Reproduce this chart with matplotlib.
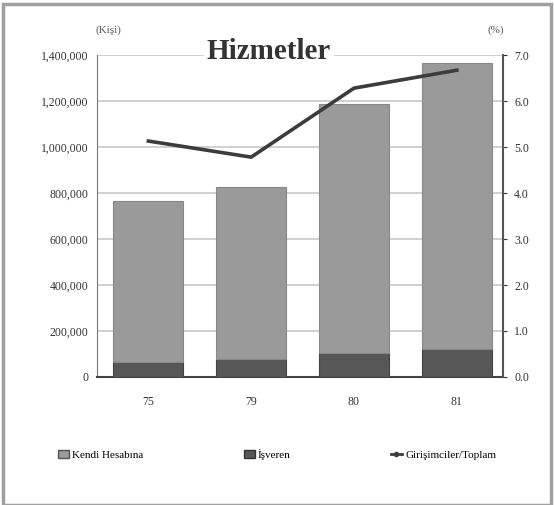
import numpy as np
import matplotlib.pyplot as plt
from matplotlib.patches import Rectangle, Patch
from matplotlib.lines import Line2D

years = ["75", "79", "80", "81"]
isveren = [65000, 78000, 104000, 122000]          # dark bottom part
kendi_hesabina = [700000, 748000, 1083000, 1243000]  # light top part
girisimci_orani = [5.13, 4.78, 6.28, 6.67]          # % (right axis)

plt.rcParams['font.family'] = ['Liberation Serif', 'DejaVu Serif']

fig = plt.figure(figsize=(5.54, 5.05), dpi=100)
ax = fig.add_axes([0.175, 0.2535, 0.733, 0.6375])
x = np.arange(len(years))

ax.bar(x, isveren, width=0.68, color='#575757', edgecolor='#444444', linewidth=0.8, zorder=3)
ax.bar(x, kendi_hesabina, width=0.68, bottom=isveren, color='#9a9a9a',
       edgecolor='#888888', linewidth=0.8, zorder=3)
ax.set_xlim(-0.5, 3.45)
ax.set_ylim(0, 1400000)
ax.set_yticks(np.arange(0, 1400001, 200000))
ax.set_yticklabels(['0'] + [f"{v:,}" for v in range(200000, 1400001, 200000)])
ax.set_xticks(x)
ax.set_xticklabels(years)
ax.grid(axis='y', color='#c8c8c8', linewidth=1.2, zorder=0)
ax.tick_params(labelsize=8.5, colors='#333333', length=0, pad=6)
ax.tick_params(axis='x', pad=14)
for s in ['top', 'right']:
    ax.spines[s].set_visible(False)
ax.spines['left'].set_color('#777777')
ax.spines['bottom'].set_color('#444444')
ax.spines['bottom'].set_linewidth(1.5)

ax2 = ax.twinx()
ax2.plot(x, girisimci_orani, color='#3c3c3c', linewidth=2.6, zorder=5)
ax2.set_ylim(0, 7)
ax2.set_yticks(np.arange(0, 7.01, 1.0))
ax2.set_yticklabels([f"{v:.1f}" for v in np.arange(0, 7.01, 1.0)])
ax2.tick_params(labelsize=8.5, colors='#333333', length=3, pad=5)
for s in ['top', 'left', 'bottom']:
    ax2.spines[s].set_visible(False)
ax2.spines['right'].set_color('#555555')
ax2.spines['right'].set_linewidth(1.5)

fig.text(0.485, 0.898, "Hizmetler", ha='center', va='center', fontsize=21,
         fontweight='bold', color='#333333',
         bbox=dict(facecolor='white', edgecolor='none', pad=2))
fig.text(0.195, 0.94, "(Kişi)", ha='center', va='center', fontsize=8, color='#555555')
fig.text(0.895, 0.94, "(%)", ha='center', va='center', fontsize=8, color='#555555')

handles = [Patch(facecolor='#9a9a9a', edgecolor='#555555'),
           Patch(facecolor='#575757', edgecolor='#333333'),
           Line2D([], [], color='#3c3c3c', linewidth=2, marker='o', markersize=3)]
labels = ["Kendi Hesabına", "İşveren", "Girişimciler/Toplam"]
fig.legend(handles, labels, loc='center', bbox_to_anchor=(0.5, 0.1), ncol=3,
           frameon=False, fontsize=8, handlelength=1.0, handletextpad=0.3,
           columnspacing=9.0)

fig.patches.append(Rectangle((0.006, 0.0), 0.988, 0.992, transform=fig.transFigure,
                             fill=False, edgecolor='#a0a0a0', linewidth=2.5))

fig.savefig('out.png', dpi=100)
